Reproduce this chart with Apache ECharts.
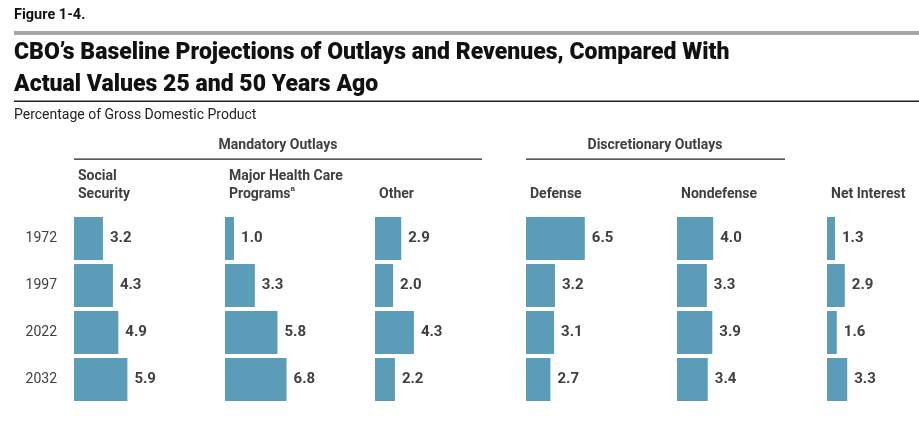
<!DOCTYPE html>
<html><head><meta charset="utf-8">
<script src="https://cdn.jsdelivr.net/npm/echarts@6/dist/echarts.min.js"></script>
<style>html,body{margin:0;padding:0;background:#fff}#c{width:919px;height:423px}</style>
</head><body><div id="c"></div>
<script>
const years = ['1972', '1997', '2022', '2032'];
const panelNames = ['Social\nSecurity', 'Major Health Care\nPrograms{sup|a}', 'Other', 'Defense', 'Nondefense', 'Net Interest'];
const socialSecurity = [3.2, 4.3, 4.9, 5.9];
const healthCare = [1.0, 3.3, 5.8, 6.8];
const otherMandatory = [2.9, 2.0, 4.3, 2.2];
const defense = [6.5, 3.2, 3.1, 2.7];
const nondefense = [4.0, 3.3, 3.9, 3.4];
const netInterest = [1.3, 2.9, 1.6, 3.3];
const seriesValues = [socialSecurity, healthCare, otherMandatory, defense, nondefense, netInterest];
const groupNames = ['Mandatory Outlays', 'Discretionary Outlays'];
const figureLabel = 'Figure 1-4.';
const titleLines = ['CBO\u2019s Baseline Projections of Outlays and Revenues, Compared With', 'Actual Values 25 and 50 Years Ago'];
const subtitle = 'Percentage of Gross Domestic Product';

const chart = echarts.init(document.getElementById('c'), null, {renderer: 'canvas'});
const lefts = [74, 225, 375, 526, 677, 827];
const pxPerUnit = 9.05;
const xMax = 15;
const gw = pxPerUnit * xMax;
const FONT = 'Roboto, "Liberation Sans", sans-serif';
const TXT = '#404040';
const grids = [], xAxes = [], yAxes = [], series = [];
lefts.forEach((l, i) => {
  grids.push({left: l, top: 215, width: gw, height: 188});
  xAxes.push({type: 'value', gridIndex: i, min: 0, max: xMax, show: false});
  yAxes.push({type: 'category', gridIndex: i, data: years, inverse: true,
    axisLine: {show: false}, axisTick: {show: false}, splitLine: {show: false},
    axisLabel: {show: i === 0, margin: 17, fontSize: 14, color: TXT, fontFamily: FONT}});
  series.push({type: 'bar', xAxisIndex: i, yAxisIndex: i, data: seriesValues[i], barWidth: 43,
    itemStyle: {color: '#5b9db8'}, silent: true,
    label: {show: true, position: 'right', distance: 7, fontSize: 15, fontWeight: 'bold', color: TXT,
      fontFamily: FONT, formatter: p => p.value.toFixed(1)}});
});
const graphic = [
  {type: 'text', left: 14, top: 8, style: {text: figureLabel, font: 'bold 14.5px ' + FONT, fill: '#111'}},
  {type: 'rect', shape: {x: 14, y: 31, width: 905, height: 4}, style: {fill: '#a6a8a8'}},
  {type: 'text', left: 14, top: 42, style: {text: titleLines[0], font: '900 23px ' + FONT, fill: '#111'}},
  {type: 'text', left: 14, top: 74, style: {text: titleLines[1], font: '900 23px ' + FONT, fill: '#111'}},
  {type: 'rect', shape: {x: 14, y: 100.5, width: 905, height: 1.5}, style: {fill: '#222'}},
  {type: 'text', left: 14, top: 108, style: {text: subtitle, font: '14px ' + FONT, fill: '#222'}},
  {type: 'text', x: 278, y: 145, style: {text: groupNames[0], font: 'bold 14px ' + FONT, fill: TXT, align: 'center', verticalAlign: 'middle'}},
  {type: 'rect', shape: {x: 74, y: 158.5, width: 408, height: 1.2}, style: {fill: '#222'}},
  {type: 'text', x: 655, y: 145, style: {text: groupNames[1], font: 'bold 14px ' + FONT, fill: TXT, align: 'center', verticalAlign: 'middle'}},
  {type: 'rect', shape: {x: 526, y: 158.5, width: 259, height: 1.2}, style: {fill: '#222'}}
];
panelNames.forEach((n, i) => {
  graphic.push({type: 'text', x: lefts[i] + 4, y: 203, style: {
    text: n, font: 'bold 14px ' + FONT, fill: TXT, verticalAlign: 'bottom', lineHeight: 18,
    rich: {sup: {fontSize: 8, fontWeight: 'bold', fill: TXT, verticalAlign: 'top', padding: [0, 0, 6, 0]}}}});
});
chart.setOption({animation: false, grid: grids, xAxis: xAxes, yAxis: yAxes, series: series, graphic: graphic});
</script></body></html>
